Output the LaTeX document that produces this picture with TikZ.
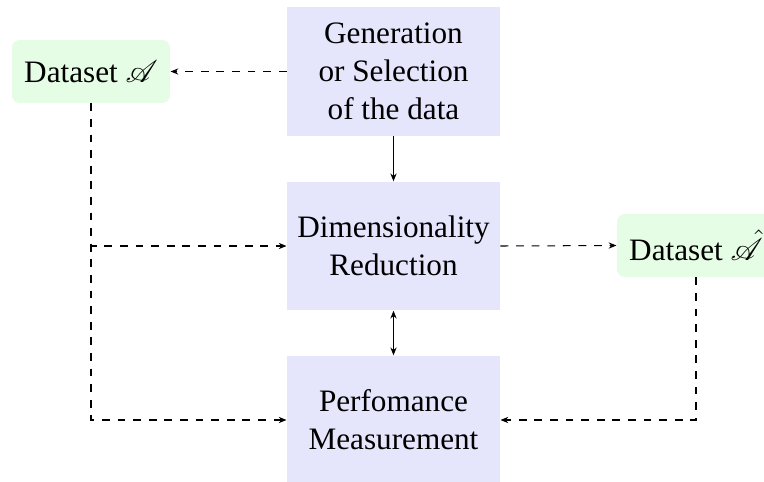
\documentclass[tikz,border=0pt]{standalone}
\usepackage{fontspec}
\setmainfont{Liberation Serif}
\usepackage{mathrsfs}
\DeclareFontFamily{U}{rsfs}{\skewchar\font127 }
\DeclareFontShape{U}{rsfs}{m}{n}{<-> rsfs10}{}
\usetikzlibrary{arrows.meta}
\definecolor{boxblue}{RGB}{229,229,252}
\definecolor{boxgreen}{RGB}{229,252,229}
\begin{document}
\begin{tikzpicture}[x=0.384615pt, y=-0.384615pt,
  every node/.style={font=\fontsize{12}{14.5}\selectfont, align=center, inner sep=0pt},
  procbox/.style={fill=boxblue, minimum width=81.9pt, minimum height=49.4pt},
  databox/.style={fill=boxgreen, rounded corners=3pt, minimum width=60.8pt, minimum height=24.2pt},
  arr/.style={-{Stealth[length=3pt,width=2.4pt]}},
  dasharr/.style={arr, dashed},
  biarr/.style={{Stealth[length=3pt,width=2.4pt]}-{Stealth[length=3pt,width=2.4pt]}}]
\useasboundingbox (0,0) rectangle (764,481);
\node[procbox] (gen) at (393.5,71.5) {Generation\\or Selection\\of the data};
\node[procbox] (dim) at (393.5,246) {Dimensionality\\Reduction};
\node[procbox] (perf) at (393.5,420) {Perfomance\\Measurement};
\node[databox] (dsA) at (91,71.5) {Dataset $\mathscr{A}$};
\node[databox] (dsB) at (696,245.5) {Dataset $\hat{\mathscr{A}}$};
\draw[dasharr] (gen) -- (dsA);
\draw[arr] (gen) -- (dim);
\draw[biarr] (dim) -- (perf);
\draw[dasharr] (dsA.south) |- (dim.west);
\draw[dasharr] (dsA.south) |- (perf.west);
\draw[dasharr] (dim.east) -- (dsB.west);
\draw[dasharr] (dsB.south) |- (perf.east);
\end{tikzpicture}
\end{document}
